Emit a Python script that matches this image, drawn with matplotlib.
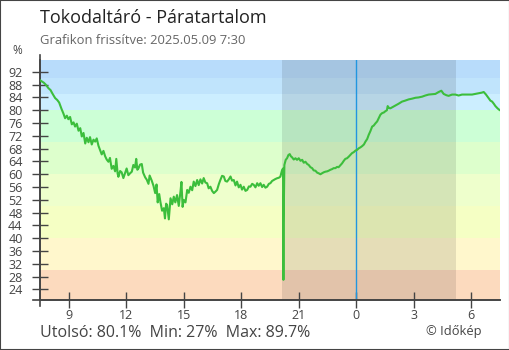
import matplotlib
matplotlib.use('Agg')
import matplotlib.pyplot as plt
from matplotlib.patches import Rectangle

plt.rcParams['font.family'] = ['Open Sans', 'DejaVu Sans']

# DATA (hours since midnight of the first day, relative humidity %)
hours = [7.52, 7.60, 7.70, 7.80, 7.94, 8.05, 8.15, 8.29, 8.40, 8.50, 8.63, 8.72, 8.81, 8.90, 8.98,
         9.07, 9.16, 9.25, 9.33, 9.42, 9.51, 9.60, 9.68, 9.77, 9.86, 9.94, 10.03, 10.11, 10.20, 10.29,
         10.38, 10.46, 10.55, 10.64, 10.72, 10.81, 10.90, 10.98, 11.07, 11.15, 11.24, 11.33, 11.42,
         11.48, 11.55, 11.59, 11.68, 11.76, 11.85, 11.94, 12.02, 12.11, 12.20, 12.29, 12.37, 12.46,
         12.52, 12.58, 12.64, 12.72, 12.81, 12.88, 12.99, 13.07, 13.16, 13.22, 13.33, 13.42, 13.51,
         13.58, 13.64, 13.72, 13.78, 13.87, 13.96, 14.02, 14.08, 14.13, 14.22, 14.31, 14.40, 14.48,
         14.56, 14.65, 14.74, 14.83, 14.88, 14.94, 15.00, 15.09, 15.18, 15.26, 15.35, 15.44, 15.52,
         15.61, 15.70, 15.78, 15.87, 15.96, 16.04, 16.13, 16.22, 16.30, 16.39, 16.48, 16.57, 16.66,
         16.74, 16.83, 16.91, 17.00, 17.09, 17.17, 17.26, 17.35, 17.44, 17.52, 17.61, 17.70, 17.78,
         17.87, 17.96, 18.04, 18.13, 18.22, 18.31, 18.40, 18.48, 18.57, 18.65, 18.74, 18.83, 18.91,
         19.00, 19.09, 19.17, 19.26, 19.35, 19.44, 19.52, 19.61, 19.69, 19.78, 19.87, 19.96, 20.04,
         20.13, 20.18, 20.20, 20.21, 20.25, 20.32, 20.39, 20.46, 20.53, 20.59, 20.65, 20.74, 20.83,
         20.91, 21.00, 21.09, 21.18, 21.26, 21.35, 21.44, 21.52, 21.61, 21.70, 21.78, 21.87, 21.96,
         22.04, 22.13, 22.22, 22.30, 22.39, 22.48, 22.56, 22.65, 22.74, 22.82, 22.91, 23.00, 23.08,
         23.17, 23.26, 23.35, 23.43, 23.52, 23.61, 23.70, 23.78, 23.87, 23.96, 24.04, 24.13, 24.22,
         24.31, 24.40, 24.48, 24.57, 24.65, 24.74, 24.83, 24.91, 25.00, 25.09, 25.17, 25.26, 25.35,
         25.44, 25.52, 25.60, 25.64, 25.71, 25.78, 25.90, 26.04, 26.20, 26.39, 26.55, 26.74, 26.90,
         27.09, 27.25, 27.44, 27.60, 27.78, 27.95, 28.13, 28.30, 28.44, 28.56, 28.70, 28.82, 29.00,
         29.17, 29.34, 29.52, 29.80, 30.04, 30.22, 30.39, 30.55, 30.65, 30.77, 30.91, 31.00, 31.09,
         31.18, 31.26, 31.37, 31.47]
rh = [89.3, 89.0, 88.6, 88.0, 86.9, 86.3, 85.2, 83.8, 83.2, 82.4, 80.3, 79.0, 77.5, 78.3, 77.2,
      77.9, 75.6, 76.2, 74.9, 75.8, 73.6, 74.4, 71.8, 72.9, 69.6, 71.4, 70.0, 71.6, 69.3, 70.8,
      70.2, 71.2, 68.9, 67.5, 66.2, 67.3, 65.6, 64.6, 63.9, 65.1, 61.7, 62.6, 60.9,
      64.8, 60.2, 59.2, 61.0, 60.6, 58.8, 60.4, 61.8, 59.7, 60.3, 60.8, 62.9, 62.1,
      64.8, 61.4, 61.9, 63.0, 63.2, 60.5, 59.0, 58.3, 57.0, 59.6, 58.0, 56.4, 54.1,
      56.8, 51.2, 53.8, 51.4, 48.6, 49.4, 46.2, 50.8, 50.4, 45.9, 52.5, 50.6, 53.0,
      51.2, 53.5, 50.1, 54.6, 57.6, 49.8, 52.0, 51.2, 55.1, 54.2, 56.1, 55.0, 57.7,
      56.3, 58.2, 56.6, 58.4, 57.1, 58.8, 57.4, 57.2, 55.6, 56.1, 54.8, 54.1, 54.6,
      55.1, 56.9, 58.2, 59.5, 59.3, 57.9, 57.7, 58.4, 59.3, 58.0, 58.2, 56.5, 57.7,
      55.9, 56.7, 55.2, 56.1, 54.8, 55.1, 56.2, 56.1, 57.0, 56.7, 55.9, 57.2, 56.4,
      57.2, 56.0, 56.7, 55.8, 56.1, 57.0, 57.2, 57.9, 58.2, 58.5, 58.75, 58.9, 59.25,
      61.3, 61.8, 27.0, 44.7, 62.9, 64.5, 65.0, 66.0, 66.3, 65.6, 65.3, 64.6, 65.0,
      64.5, 65.0, 64.2, 64.5, 63.6, 63.9, 63.2, 62.9, 62.2, 61.9, 61.2, 61.1, 60.5,
      60.3, 60.0, 60.3, 60.6, 60.8, 60.9, 61.1, 61.4, 61.6, 61.9, 61.9, 62.3, 62.2,
      62.8, 63.4, 64.2, 64.8, 65.0, 65.5, 66.1, 66.6, 66.9, 67.4, 67.6, 68.1, 68.4,
      68.8, 69.3, 70.2, 71.0, 72.3, 73.5, 74.9, 75.2, 75.9, 76.5, 77.5, 78.6, 79.1,
      79.3, 79.7, 80.0, 81.3, 80.7, 80.6, 81.0, 81.5, 82.0, 82.7, 83.0, 83.4, 83.6,
      83.9, 84.0, 84.25, 84.6, 84.9, 85.0, 85.1, 85.7, 86.1, 85.1, 84.7, 84.5, 84.9,
      84.9, 84.6, 84.9, 84.9, 84.9, 85.1, 85.3, 85.5, 85.7, 84.9, 83.75, 83.0, 82.7,
      82.0, 81.3, 80.6, 80.1]

band_edges = [0, 30, 40, 50, 60, 70, 80, 85, 90, 100]
band_colors = ['#fcdabe', '#fff7cc', '#f5ffc4', '#eeffcc', '#ddffcc', '#ccffd6', '#cceeff', '#c0e4fc', '#b8dcfb']
x_ticks = [9, 12, 15, 18, 21, 24, 27, 30]
x_labels = ['9', '12', '15', '18', '21', '0', '3', '6']
y_ticks = list(range(24, 93, 4))
sunset, sunrise, midnight = 20.15, 29.22, 24.0

# PLOT
fig = plt.figure(figsize=(5.1, 3.5), dpi=100)
ax = fig.add_axes([40/510, 50/350, 460/510, 240/350])

for lo, hi, c in zip(band_edges[:-1], band_edges[1:], band_colors):
    ax.axhspan(lo, hi, color=c, lw=0, zorder=0)
ax.axvspan(sunset, sunrise, color='black', alpha=0.1, lw=0, zorder=1)
ax.axvline(midnight, color='#2196e0', lw=1, zorder=2)
ax.plot(hours, rh, color='#3cbe3c', lw=1.5, zorder=3)

ax.set_xlim(7.5, 31.5)
ax.set_ylim(20.7, 95.7)
ax.set_xticks(x_ticks)
ax.set_xticklabels(x_labels)
ax.set_yticks(y_ticks)
for s in ['top', 'right']:
    ax.spines[s].set_visible(False)
for s in ['left', 'bottom']:
    ax.spines[s].set_color('#444444')
    ax.spines[s].set_linewidth(1.2)
ax.plot([0, 0], [-0.025, 1.02], transform=ax.transAxes, color='#444444', lw=1.2, clip_on=False)
ax.plot([-0.015, 1.0], [0, 0], transform=ax.transAxes, color='#444444', lw=1.2, clip_on=False)
ax.tick_params(axis='both', direction='inout', length=11, width=1, color='#444444',
               labelcolor='#444444', labelsize=9)
ax.tick_params(axis='x', pad=1)
ax.tick_params(axis='y', pad=7)

fig.text(40/510, 1 - 18/350, 'Tokodaltáró - Páratartalom', fontsize=13, color='#222222', va='center')
fig.text(40/510, 1 - 41/350, 'Grafikon frissítve: 2025.05.09 7:30', fontsize=9.4, color='#666666', va='center')
fig.text(17/510, 1 - 51/350, '%', fontsize=8.5, color='#444444', va='center', ha='center')
fig.text(40/510, 1 - 333/350, 'Utolsó: 80.1%  Min: 27%  Max: 89.7%', fontsize=11.5, color='#444444', va='center')
fig.text(482/510, 1 - 332/350, '© Időkép', fontsize=9.3, color='#444444', va='center', ha='right')

fig.patches.append(Rectangle((0, 0), 1, 1, transform=fig.transFigure, fill=False,
                             edgecolor='#444444', lw=1.5))

fig.savefig('out.png', dpi=100)
